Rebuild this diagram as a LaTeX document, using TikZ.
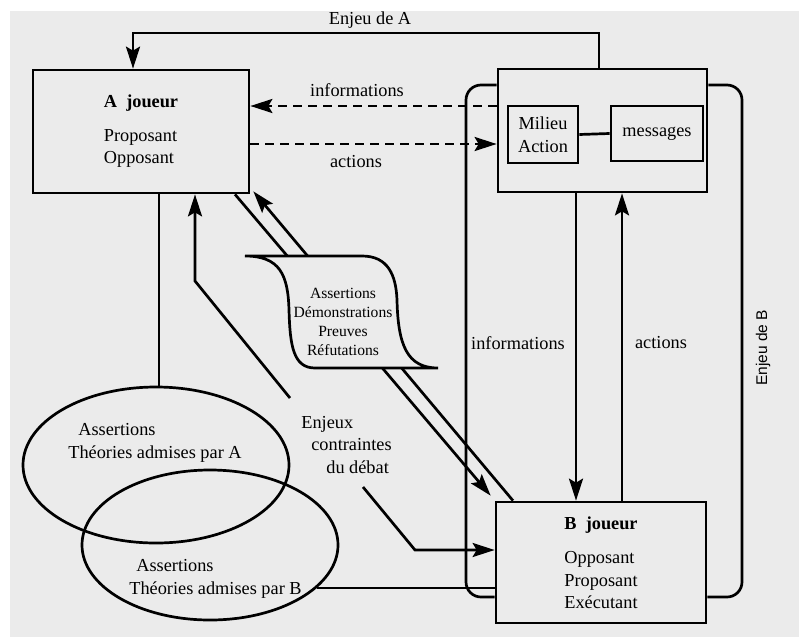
\documentclass[tikz,border=0pt]{standalone}
\usepackage{fontspec}
\setmainfont{Liberation Serif}
\setsansfont{Liberation Sans}
\usetikzlibrary{arrows.meta,shapes.geometric}
\definecolor{bg}{RGB}{235,235,235}
\begin{document}
\begin{tikzpicture}[x=1pt,y=-1pt,line width=2.7pt,
  every node/.style={font=\fontsize{18.3}{22.5}\selectfont,inner sep=0pt},
  arr/.style={-{Stealth[length=22pt,width=14pt,inset=4pt]}},
  box/.style={draw,fill=bg,rectangle},
  dsh/.style={dash pattern=on 9pt off 6pt}]
\useasboundingbox (0,0) rectangle (799,637);
\fill[bg] (10,11) rectangle (799,637);

% boxes
\node[box,minimum width=216pt,minimum height=123pt,align=left] (A) at (141,131.5)
  {\textbf{A\ \ joueur}\\[11pt]Proposant\\Opposant};
\node[box,minimum width=209pt,minimum height=123pt] (M) at (602.5,130.5) {};
\node[box,minimum width=70pt,minimum height=57pt,align=center] (MA) at (543,134.5) {Milieu\\Action};
\node[box,minimum width=92pt,minimum height=55pt] (ms) at (657,133.5) {messages};
\node[box,minimum width=210pt,minimum height=121pt,align=left] (B) at (601,562.5)
  {\textbf{B\ \ joueur}\\[12pt]Opposant\\Proposant\\Exécutant};

% ellipses
\node[draw,ellipse,minimum width=266pt,minimum height=156pt] (EA) at (156,465) {};
\node[draw,ellipse,minimum width=256pt,minimum height=150pt] (EB) at (210,545) {};
\node[anchor=west,align=left] (tEA) at (67,443) {\hspace*{10pt}Assertions\\Théories admises par A};
\node[anchor=west,align=left] (tEB) at (128,579) {\hspace*{7pt}Assertions\\Théories admises par B};
\node[anchor=west,align=left] (enj) at (300,445) {Enjeux\\\hspace*{10pt}contraintes\\\hspace*{25pt}du débat};

% labels
\node (lEA) at (370,20) {Enjeu de A};
\node (li1) at (357,90) {informations};
\node (la1) at (356,162) {actions};
\node (li2) at (518,343) {informations};
\node (la2) at (661,343) {actions};
\node[rotate=90,font=\sffamily\fontsize{15.5}{18}\selectfont] (lEB) at (763,348) {Enjeu de B};

% Enjeu de A
\coordinate (ea) at (599,33);
\coordinate (eb) at (133,33);
\draw[arr] (M.north -| ea) -- (ea) -- (eb) -- (A.north -| eb);

% dashed informations / actions
\draw[arr,dsh] (M.west |- 0,106) -- (A.east |- 0,106);
\draw[arr,dsh] (A.east |- 0,144) -- (M.west |- 0,144);

% milieu inner link
\draw (MA.east) -- (ms.west);

% vertical informations / actions
\draw[arr] (M.south -| 576,0) -- (B.north -| 576,0);
\draw[arr] (B.north -| 622,0) -- (M.south -| 622,0);

% Enjeu de B loop
\coordinate (lb) at (466,597);
\coordinate (lt) at (466,85);
\coordinate (rt) at (742,85);
\coordinate (rb) at (742,597);
\draw[rounded corners=15pt] (B.west |- lb) -- (lb) -- (lt) -- (M.west |- lt);
\draw[rounded corners=15pt] (M.east |- rt) -- (rt) -- (rb) -- (B.east |- rb);

% A to ellipse A, ellipse B to B
\draw (A.south -| 159,0) -- (EA.north -| 159,0);
\draw (EB.-22) -- (B.west |- EB.-22);

% Enjeux contraintes du debat
\coordinate (e1) at (290,398);
\coordinate (e2) at (363,487);
\draw[arr] (e1) -- (195,281) -- (A.south -| 195,0);
\draw[arr] (e2) -- (415,550) -- (B.west |- 0,550);

% diagonals A <-> B
\draw[arr] (A.south -| 235,0) -- ([shift={(-4,-5)}]B.north west);
\draw[arr] (B.north -| 513,0) -- ([shift={(3,-3)}]A.south east);

% bubble
\filldraw[fill=bg] (245,256) -- (362,256) .. controls (388,256) and (396,275) .. (397,300)
  .. controls (398,345) and (407,368) .. (438,368) -- (315,368)
  .. controls (293,368) and (290,345) .. (289,310)
  .. controls (288,275) and (280,256) .. (245,256) -- cycle;
\node[font=\fontsize{15.6}{19}\selectfont,align=center] (bub) at (343,322)
  {Assertions\\Démonstrations\\Preuves\\Réfutations};
\end{tikzpicture}
\end{document}
